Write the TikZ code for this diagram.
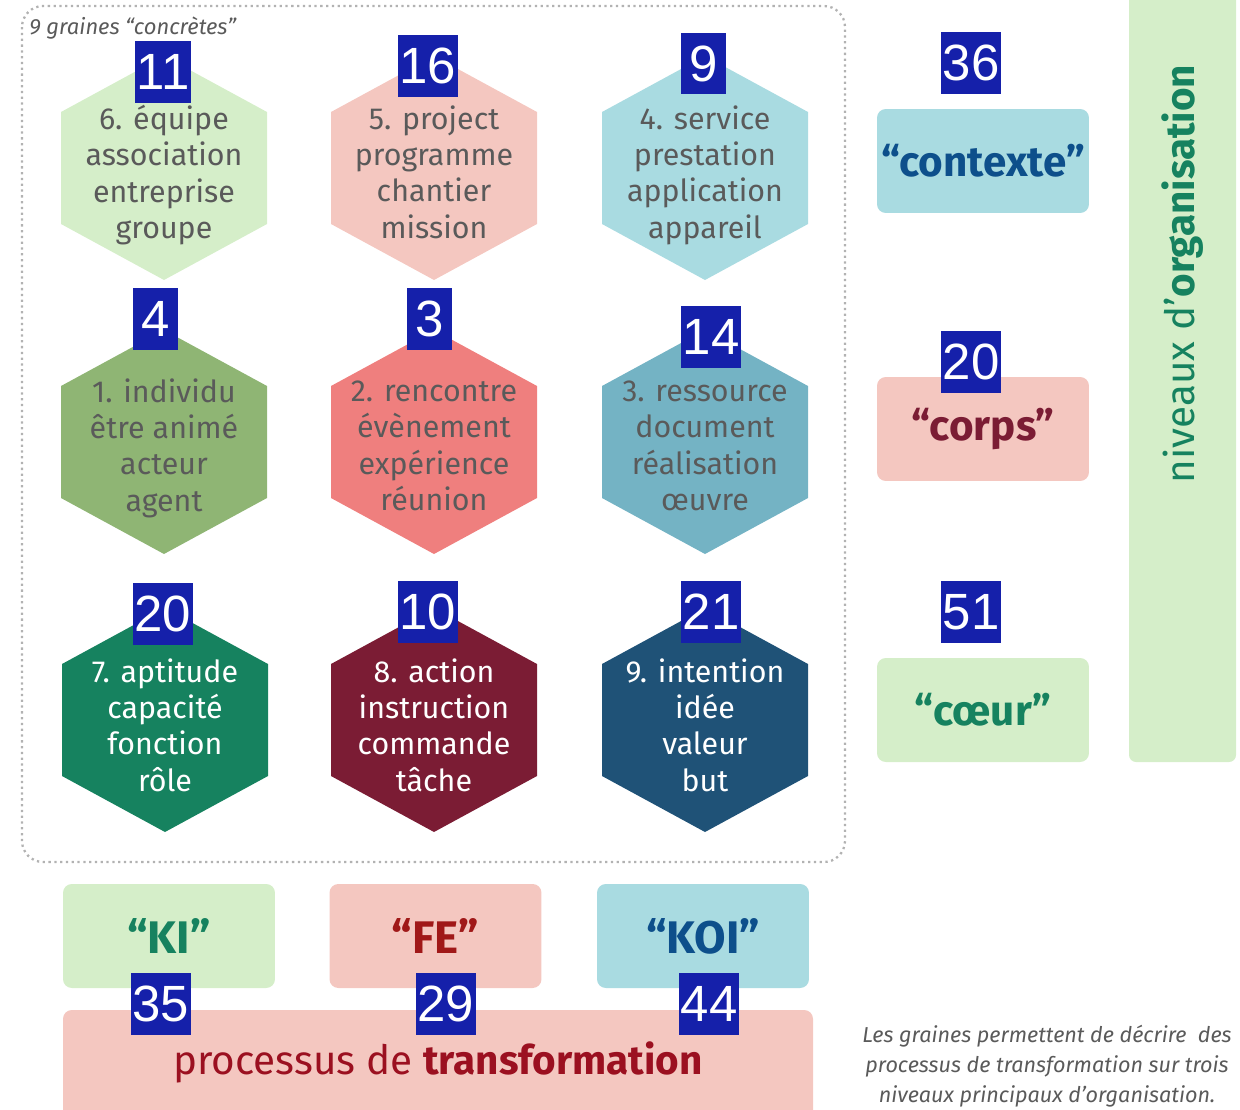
\documentclass[tikz,border=0pt]{standalone}
\usepackage{fontspec}
\setmainfont{Fira Sans}
\newfontfamily\numfont{Liberation Sans}
\usetikzlibrary{calc,positioning}
\def\hexw{103}
\def\hexh{112}
\definecolor{seedgreenA}{HTML}{D5EEC9}
\definecolor{seedredA}{HTML}{F4C7C0}
\definecolor{seedblueA}{HTML}{A9DBE1}
\definecolor{seedgreenB}{HTML}{8FB574}
\definecolor{seedredB}{HTML}{EF7F7E}
\definecolor{seedblueB}{HTML}{74B3C4}
\definecolor{seedgreenC}{HTML}{16825F}
\definecolor{seedredC}{HTML}{7B1C34}
\definecolor{seedblueC}{HTML}{1F5277}
\definecolor{seedtext}{HTML}{5A5A5A}
\definecolor{kiblue}{HTML}{0D4F8B}
\definecolor{fered}{HTML}{A01818}
\definecolor{procred}{HTML}{9B1020}
\definecolor{numblue}{HTML}{1520AA}

\begin{document}
\begin{tikzpicture}[x=0.02cm,y=-0.02cm]
    \tikzstyle{seed text}=[align=center, inner sep=0pt, font=\fontsize{17.3}{20.7}\selectfont]
    \tikzstyle{level box}=[rounded corners=5pt, minimum width=4.24cm, minimum height=2.08cm, inner sep=0pt, font=\bfseries\fontsize{24}{26}\selectfont]
    \tikzstyle{process box}=[level box, font=\bfseries\fontsize{26}{28}\selectfont]
    \tikzstyle{num}=[fill=numblue, text=white, inner xsep=1pt, inner ysep=0pt, minimum width=0.9cm, minimum height=1.24cm, font=\numfont\fontsize{29}{29}\selectfont]
    \tikzstyle{note}=[align=center, text=seedtext, font=\itshape\fontsize{12.3}{17}\selectfont]

    \useasboundingbox (0,0) rectangle (1240,1109);

    % the dotted frame round the seeds
    \draw[gray!60, line width=1.3pt, dotted, rounded corners=12pt] (22,6) rectangle (845,862);
    \node[anchor=west, text=seedtext, inner sep=0pt, font=\itshape\fontsize{12.5}{14}\selectfont] (titre) at (29,28) {9 graines “concrètes”};

    % Draw the hexagons
    \foreach \name / \x / \y / \bg / \fg / \dy / \txt in {
        6/164/168/seedgreenA/seedtext/7/{6. équipe\\association\\entreprise\\groupe},
        5/434/168/seedredA/seedtext/4/{5. project\\programme\\chantier\\mission},
        4/705/168/seedblueA/seedtext/7/{4. service\\prestation\\application\\appareil},
        1/164/442/seedgreenB/seedtext/6/{1. individu\\être animé\\acteur\\agent},
        2/434/442/seedredB/seedtext/4/{2. rencontre\\évènement\\expérience\\réunion},
        3/705/442/seedblueB/seedtext/4/{3. ressource\\document\\réalisation\\œuvre},
        7/165/720/seedgreenC/white/5/{7. aptitude\\capacité\\fonction\\rôle},
        8/434/720/seedredC/white/5/{8. action\\instruction\\commande\\tâche},
        9/705/720/seedblueC/white/5/{9. intention\\idée\\valeur\\but}}
    {
        \fill[\bg] (\x,\y-\hexh) -- (\x+\hexw,\y-\hexh/2) -- (\x+\hexw,\y+\hexh/2)
            -- (\x,\y+\hexh) -- (\x-\hexw,\y+\hexh/2) -- (\x-\hexw,\y-\hexh/2) -- cycle;
        \node[seed text, text=\fg] (G-\name) at (\x,\y+\dy) {\txt};
    }

    % Draw the levels on the right
    \node[level box, fill=seedblueA, text=kiblue] (contexte) at (983,161) {“contexte”};
    \node[level box, fill=seedredA, text=seedredC] (corps) at (983,429) {“corps”};
    \node[level box, fill=seedgreenA, text=seedgreenC] (coeur) at (983,710) {“cœur”};

    \fill[seedgreenA, rounded corners=4pt] (1129,-10) rectangle (1236,762);
    \node[rotate=90, text=seedgreenC, font=\fontsize{23}{25}\selectfont] (niveaux) at (1183,274) {niveaux d’\textbf{organisation}};

    % Draw the processes at the bottom
    \node[process box, fill=seedgreenA, text=seedgreenC] (KI) at (169,936) {“KI”};
    \node[process box, fill=seedredA, text=fered] (FE) at (435.5,936) {“FE”};
    \node[process box, fill=seedblueA, text=kiblue] (KOI) at (703,936) {“KOI”};

    \fill[seedredA, rounded corners=5pt] (63,1010) rectangle (813,1140);
    \node[text=procred, font=\fontsize{23}{25}\selectfont] (processus) at (438,1062) {processus de \textbf{transformation}};

    \node[note] (legende) at (1047,1066) {Les graines permettent de décrire\ \ des\\processus de transformation sur trois\\niveaux principaux d’organisation.};

    % Draw the counts
    \foreach \name / \x / \y / \n in {a/163/72/11, b/428/66/16, c/703.5/63.5/9, d/971/63/36,
        e/155.5/319/4, f/429.5/319/3, g/711/337/14, h/971/362/20,
        i/163/614/20, j/428/612/10, k/711/612/21, l/971/612/51,
        m/161/1004/35, n/446/1004/29, o/709/1004/44}
        \node[num] (N-\name) at (\x,\y) {\n};
\end{tikzpicture}
\end{document}
